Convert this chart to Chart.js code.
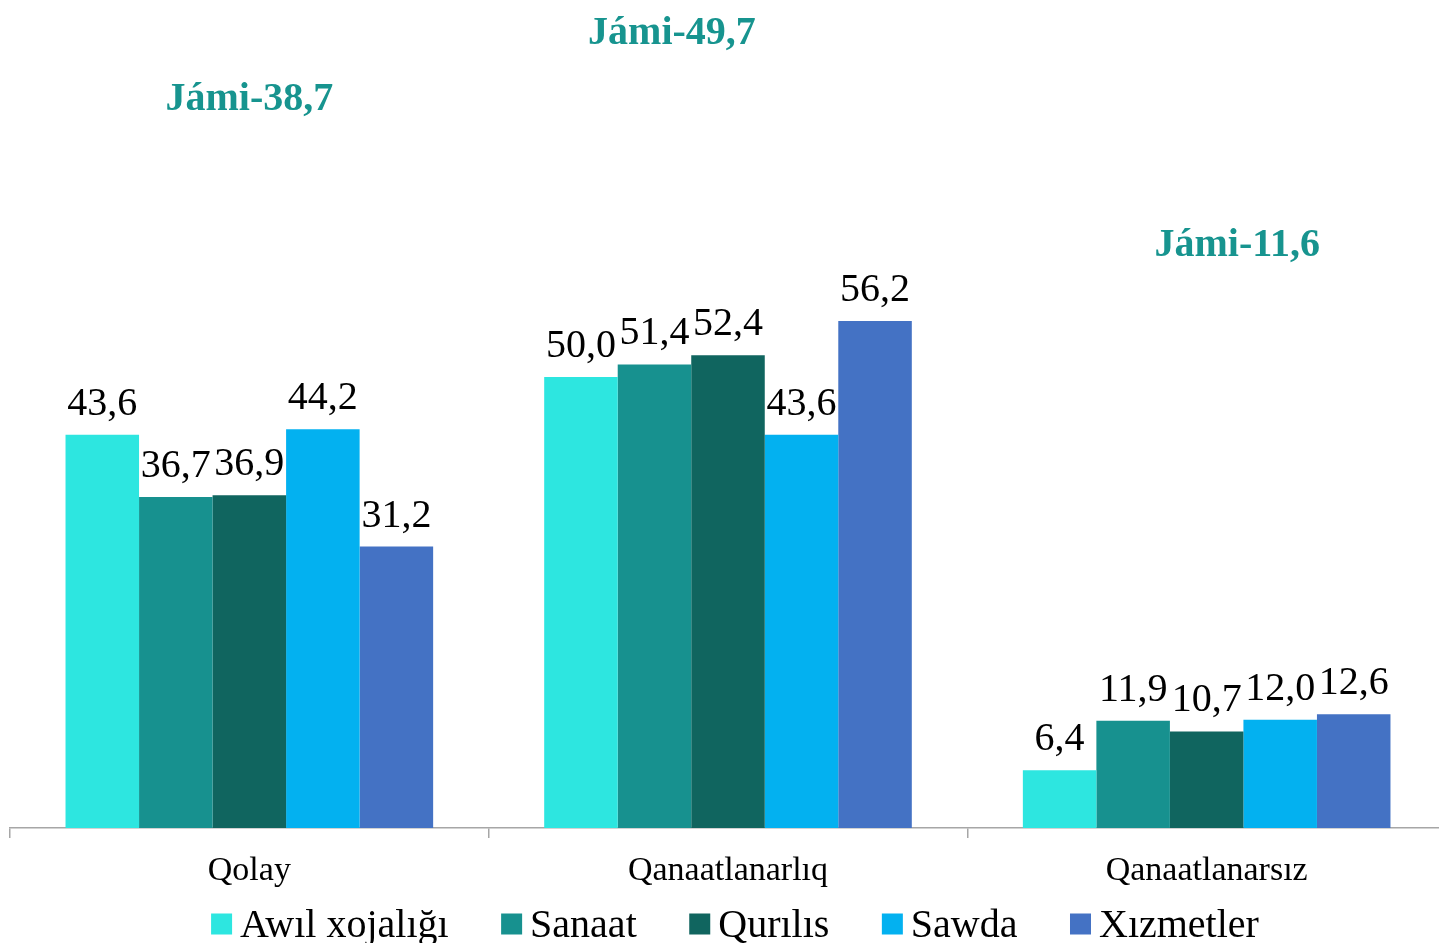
<!DOCTYPE html>
<html><head><meta charset="utf-8">
<script src="https://cdn.jsdelivr.net/npm/chart.js@4.4.1/dist/chart.umd.min.js"></script>
<style>
html,body{margin:0;padding:0;background:#fff;overflow:hidden;}
#wrap{position:relative;width:1446px;height:943px;}
</style></head><body>
<div id="wrap"><canvas id="c" width="1446" height="943"></canvas></div>
<script>
const categories = ['Qolay', 'Qanaatlanarlıq', 'Qanaatlanarsız'];
const seriesNames = ['Awıl xojalığı', 'Sanaat', 'Qurılıs', 'Sawda', 'Xızmetler'];
const awilXojaligi = [43.6, 50.0, 6.4];
const sanaat = [36.7, 51.4, 11.9];
const qurilis = [36.9, 52.4, 10.7];
const sawda = [44.2, 43.6, 12.0];
const xizmetler = [31.2, 56.2, 12.6];
const jamiTotals = [38.7, 49.7, 11.6];

const seriesColors = ['#2de6e0', '#17918f', '#10655f', '#03b1f0', '#4472c4'];
const totalColor = '#17948f';
// caption anchors for the totals: category position and value level
const jamiAnchorX = [0.0, 0.883, 2.064];
const jamiAnchorY = [79.6, 86.9, 63.4];

const FONT = "'Liberation Serif', 'Times New Roman', serif";
const fmt = v => v.toFixed(1).replace('.', ',');

const seriesValues = [awilXojaligi, sanaat, qurilis, sawda, xizmetler];

const valueLabels = {
  id: 'valueLabels',
  afterDatasetsDraw(chart) {
    const ctx = chart.ctx;
    ctx.save();
    ctx.font = '40px ' + FONT;
    ctx.fillStyle = '#000';
    ctx.textAlign = 'center';
    ctx.textBaseline = 'alphabetic';
    chart.data.datasets.forEach((ds, i) => {
      chart.getDatasetMeta(i).data.forEach((bar, j) => {
        ctx.fillText(fmt(ds.data[j]), bar.x, bar.y - 20);
      });
    });
    ctx.restore();
  }
};

const totalCaptions = {
  id: 'totalCaptions',
  afterDraw(chart) {
    const ctx = chart.ctx;
    const xs = chart.scales.x, ys = chart.scales.y;
    ctx.save();
    ctx.font = 'bold 40px ' + FONT;
    ctx.fillStyle = totalColor;
    ctx.textAlign = 'center';
    ctx.textBaseline = 'alphabetic';
    jamiTotals.forEach((t, i) => {
      ctx.fillText('Jámi-' + fmt(t), xs.getPixelForValue(jamiAnchorX[i]), ys.getPixelForValue(jamiAnchorY[i]));
    });
    ctx.restore();
  }
};

const bottomLegend = {
  id: 'bottomLegend',
  afterDraw(chart) {
    const ctx = chart.ctx;
    const box = 21, gap = 8, itemGap = 52.5;
    ctx.save();
    ctx.font = '40px ' + FONT;
    const items = chart.data.datasets.map(ds => ({ text: ds.label, color: ds.backgroundColor, w: ctx.measureText(ds.label).width }));
    const total = items.reduce((s, it) => s + box + gap + it.w, 0) + itemGap * (items.length - 1);
    const ca = chart.chartArea;
    let x = (ca.left + ca.right) / 2 + 7 - total / 2;
    const yMid = chart.height - 19;
    ctx.textBaseline = 'middle';
    ctx.textAlign = 'left';
    items.forEach(it => {
      ctx.fillStyle = it.color;
      ctx.fillRect(x, yMid - box / 2, box, box);
      ctx.fillStyle = '#000';
      ctx.fillText(it.text, x + box + gap, yMid + 2);
      x += box + gap + it.w + itemGap;
    });
    ctx.restore();
  }
};

new Chart(document.getElementById('c'), {
  type: 'bar',
  data: {
    labels: categories,
    datasets: seriesNames.map((name, i) => ({
      label: name,
      data: seriesValues[i],
      backgroundColor: seriesColors[i],
      borderWidth: 0,
      categoryPercentage: 0.768,
      barPercentage: 1.0
    }))
  },
  options: {
    responsive: false,
    animation: false,
    devicePixelRatio: 1,
    layout: { padding: { left: 10, right: 0, top: 0, bottom: 0 } },
    plugins: { legend: { display: false }, tooltip: { enabled: false } },
    scales: {
      x: {
        offset: true,
        grid: { offset: true, drawOnChartArea: false, drawTicks: true, tickLength: 10, color: '#a6a6a6', lineWidth: 1.5 },
        border: { display: true, color: '#a6a6a6', width: 1.5 },
        ticks: { font: { family: FONT, size: 34 }, color: '#000', padding: 13, maxRotation: 0 },
        afterFit(s) { s.height = 115; }
      },
      y: { display: false, min: 0, max: 91.8 }
    }
  },
  plugins: [valueLabels, totalCaptions, bottomLegend]
});
</script>
</body></html>
